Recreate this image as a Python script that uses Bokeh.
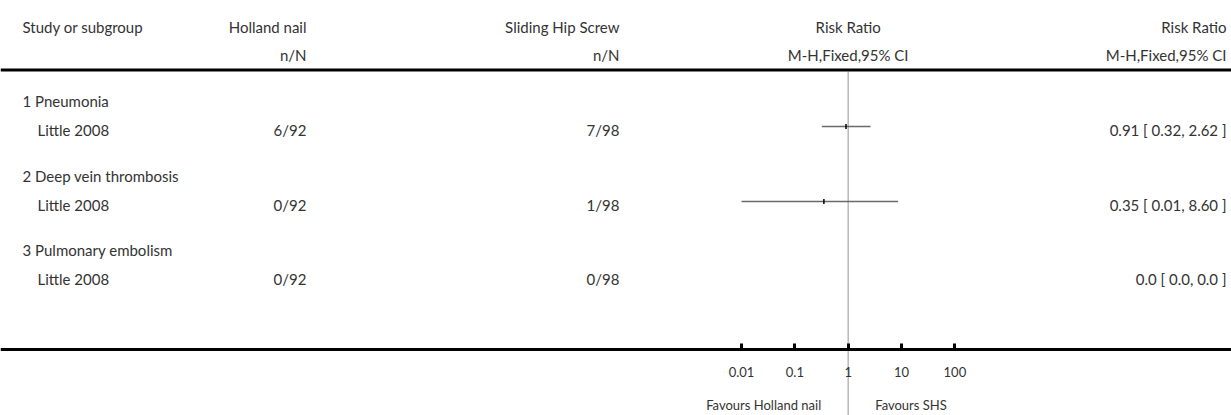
from bokeh.plotting import figure
from bokeh.models import (ColumnDataSource, Range1d, LogScale, LogAxis, FixedTicker,
                          CustomJSTickFormatter, Span)
from bokeh.core.properties import value
from bokeh.embed import file_html
from bokeh.resources import INLINE

# ---------------- data ----------------
groups = ["1 Pneumonia", "2 Deep vein thrombosis", "3 Pulmonary embolism"]
studies = ["Little 2008", "Little 2008", "Little 2008"]
holland_events = [6, 0, 0]
holland_total = [92, 92, 92]
shs_events = [7, 1, 0]
shs_total = [98, 98, 98]
risk_ratio = [0.91, 0.35, None]
ci_low = [0.32, 0.01, None]
ci_high = [2.62, 8.60, None]
rr_labels = ["0.91 [ 0.32, 2.62 ]", "0.35 [ 0.01, 8.60 ]", "0.0 [ 0.0, 0.0 ]"]
axis_ticks = [0.01, 0.1, 1, 10, 100]
favour_left = "Favours Holland nail"
favour_right = "Favours SHS"

# ---------------- layout ----------------
W, H = 1231, 415
FONT = "Lato"
TXT = "#333333"
FS = "15px"

group_y = [100, 175, 249]
study_y = [129, 204, 278]
ci_offset = -3
col_study = 37
col_group = 22
col_hol = 306
col_shs = 619
col_rr = 1226
axis_y = 348.5
top_line_y = 69.5

# log scale: decade = 53.33 px, 1 at x 847.7
dec = 53.33
x_one = 847.7
lo_log = -x_one / dec
hi_log = (W - x_one) / dec

p = figure(width=W, height=H, output_backend="svg", toolbar_location=None,
           x_range=Range1d(0, W), y_range=Range1d(H, 0),
           x_axis_location=None, y_axis_location=None, min_border=0,
           outline_line_color=None, background_fill_color="white")
p.grid.visible = False
p.extra_x_ranges = {"rr": Range1d(10 ** lo_log, 10 ** hi_log)}
p.extra_x_scales = {"rr": LogScale()}


def txt(x, y, t, align="left", size=FS, x_range_name="default", x_offset=0):
    src = ColumnDataSource(dict(x=x, y=y, t=t))
    p.text(x="x", y="y", text="t", source=src, text_align=align,
           text_baseline="middle", text_font=value(FONT), text_font_size=size,
           text_color=TXT, x_range_name=x_range_name, x_offset=x_offset)


# header
txt([col_group], [26], ["Study or subgroup"])
txt([col_hol, col_shs], [26, 26], ["Holland nail", "Sliding Hip Screw"], align="right")
txt([col_hol, col_shs], [54, 54], ["n/N", "n/N"], align="right")
txt([1], [26], ["Risk Ratio"], align="center", x_range_name="rr")
txt([1], [54], ["M-H,Fixed,95% CI"], align="center", x_range_name="rr")
txt([col_rr], [26], ["Risk Ratio"], align="right")
txt([col_rr], [54], ["M-H,Fixed,95% CI"], align="right")

p.add_layout(Span(location=top_line_y, dimension="width", line_color="black", line_width=3))

# rows
txt([col_group] * len(groups), group_y, groups)
txt([col_study] * len(studies), study_y, studies)
txt([col_hol] * 3, study_y, [f"{a}/{b}" for a, b in zip(holland_events, holland_total)], align="right")
txt([col_shs] * 3, study_y, [f"{a}/{b}" for a, b in zip(shs_events, shs_total)], align="right")
txt([col_rr] * 3, study_y, rr_labels, align="right")

# null line
p.segment(x0=[1], x1=[1], y0=[top_line_y + 1.5], y1=[H], x_range_name="rr",
          line_color="#b8b8b8", line_width=1.5)

# CIs
ci = dict(lo=[], hi=[], rr=[], y=[])
for l, h, r, y in zip(ci_low, ci_high, risk_ratio, study_y):
    if r is None:
        continue
    ci["lo"].append(l); ci["hi"].append(h); ci["rr"].append(r); ci["y"].append(y + ci_offset)
ci_src = ColumnDataSource(ci)
p.segment(x0="lo", x1="hi", y0="y", y1="y", source=ci_src, x_range_name="rr",
          line_color="#6a6a6a", line_width=1.6)
p.rect(x="rr", y="y", width=1.5, height=5, width_units="screen", height_units="screen",
       source=ci_src, x_range_name="rr", fill_color="black", line_color=None)

# favours labels
txt([1], [404], [favour_left], align="right", size="13px", x_range_name="rr", x_offset=-27)
txt([1], [404], [favour_right], align="left", size="13px", x_range_name="rr", x_offset=27)

# axis
ax = LogAxis(x_range_name="rr", fixed_location=axis_y,
             ticker=FixedTicker(ticks=axis_ticks, minor_ticks=[]),
             formatter=CustomJSTickFormatter(code="return tick.toString()"))
ax.axis_line_width = 3
ax.axis_line_color = "black"
ax.major_tick_line_width = 3
ax.major_tick_line_color = "black"
ax.major_tick_in = 6
ax.major_tick_out = 0
ax.minor_tick_in = 0
ax.minor_tick_out = 0
ax.major_label_standoff = 18
ax.major_label_text_font = FONT
ax.major_label_text_font_size = "13px"
ax.major_label_text_color = TXT
p.add_layout(ax, "below")

open("out.html", "w").write(file_html(p, INLINE))
